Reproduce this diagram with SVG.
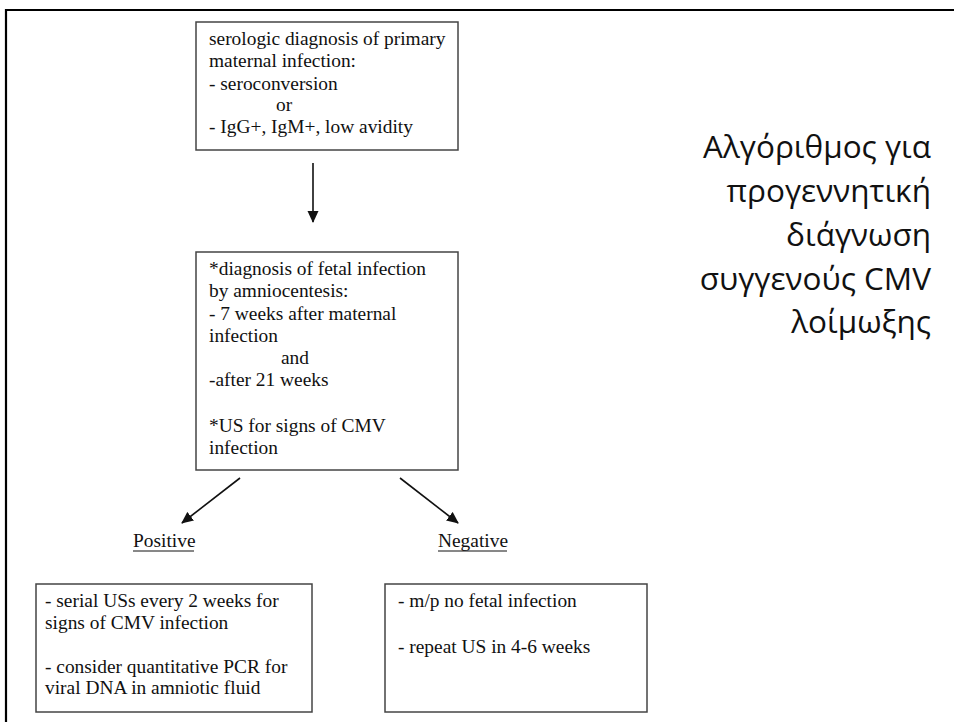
<svg xmlns="http://www.w3.org/2000/svg" width="954" height="722" viewBox="0 0 954 722">
<style>
.box{fill:#fff;stroke:#444;stroke-width:1.5}
.t{font-family:"Liberation Serif","Times New Roman",serif;font-size:19.4px;fill:#111}
.g{font-family:"Open Sans","Noto Sans",sans-serif;font-size:31.5px;fill:#111;text-anchor:end}
.c{stroke:#111;stroke-width:1.6;fill:none}
</style>
<defs>
<marker id="ah" markerWidth="12" markerHeight="12" refX="11" refY="6" orient="auto" markerUnits="userSpaceOnUse">
<path d="M0,0.5 L12,6 L0,11.5 z" fill="#111"/>
</marker>
</defs>
<rect width="954" height="722" fill="#fff"/>
<path d="M6,722 V10 H954" fill="none" stroke="#000" stroke-width="2.2"/>

<g id="node-serologic">
<rect class="box" x="196" y="22" width="262" height="128"/>
<text class="t" x="209" y="45">serologic diagnosis of primary</text>
<text class="t" x="209" y="67">maternal infection:</text>
<text class="t" x="209" y="90">- seroconversion</text>
<text class="t" x="276" y="111">or</text>
<text class="t" x="209" y="133">- IgG+, IgM+, low avidity</text>
</g>

<g id="node-fetal">
<rect class="box" x="196" y="252" width="262" height="218"/>
<text class="t" x="209" y="275">*diagnosis of fetal infection</text>
<text class="t" x="209" y="297">by amniocentesis:</text>
<text class="t" x="209" y="320">- 7 weeks after maternal</text>
<text class="t" x="209" y="342">infection</text>
<text class="t" x="281" y="364">and</text>
<text class="t" x="209" y="386">-after 21 weeks</text>
<text class="t" x="209" y="432">*US for signs of CMV</text>
<text class="t" x="209" y="454">infection</text>
</g>

<g id="label-positive">
<text class="t" x="133" y="547">Positive</text>
<line x1="133" y1="551" x2="194" y2="551" stroke="#111" stroke-width="1"/>
</g>

<g id="label-negative">
<text class="t" x="438" y="547">Negative</text>
<line x1="438" y1="551" x2="507" y2="551" stroke="#111" stroke-width="1"/>
</g>

<g id="node-positive">
<rect class="box" x="36" y="584" width="276" height="128"/>
<text class="t" x="45" y="607">- serial USs every 2 weeks for</text>
<text class="t" x="45" y="629">signs of CMV infection</text>
<text class="t" x="45" y="673">- consider quantitative PCR for</text>
<text class="t" x="45" y="694">viral DNA in amniotic fluid</text>
</g>

<g id="node-negative">
<rect class="box" x="385" y="584" width="262" height="128"/>
<text class="t" x="398" y="607">- m/p no fetal infection</text>
<text class="t" x="398" y="653">- repeat US in 4-6 weeks</text>
</g>

<g id="title">
<text class="g" x="931" y="158">Αλγόριθμος για</text>
<text class="g" x="931" y="202">προγεννητική</text>
<text class="g" x="931" y="246">διάγνωση</text>
<text class="g" x="931" y="290">συγγενούς CMV</text>
<text class="g" x="931" y="333">λοίμωξης</text>
</g>

<g id="connectors">
<line class="c" x1="313" y1="163" x2="313" y2="222" marker-end="url(#ah)"/>
<line class="c" x1="240" y1="478" x2="182" y2="523" marker-end="url(#ah)"/>
<line class="c" x1="400" y1="478" x2="458" y2="523" marker-end="url(#ah)"/>
</g>
</svg>
